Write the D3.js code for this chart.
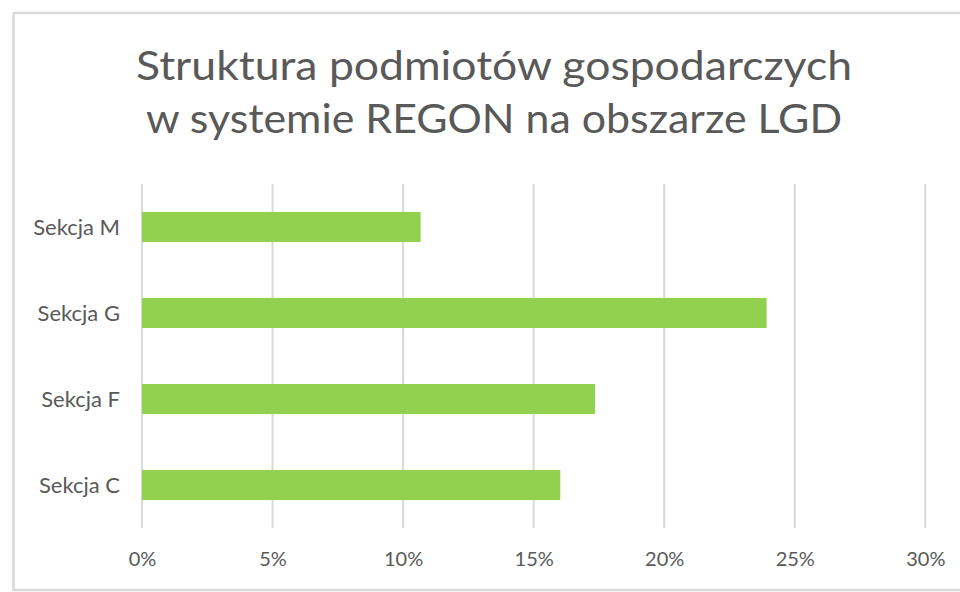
<!DOCTYPE html>
<html><head><meta charset="utf-8">
<script src="https://cdn.jsdelivr.net/npm/d3@7"></script>
<style>html,body{margin:0;padding:0;background:#fff;}svg{display:block;}</style>
</head><body>
<script>
const categories = ["Sekcja M", "Sekcja G", "Sekcja F", "Sekcja C"];
const values = [0.1067, 0.2392, 0.1735, 0.1602];
const tickValues = [0, 0.05, 0.10, 0.15, 0.20, 0.25, 0.30];
const titleLines = ["Struktura podmiotów gospodarczych", "w systemie REGON na obszarze LGD"];

const W = 960, H = 592;
const svg = d3.select("body").append("svg").attr("width", W).attr("height", H);
const font = "Lato, 'Open Sans', sans-serif";
const textColor = "#595959";

svg.append("rect").attr("x", 13.5).attr("y", 13).attr("width", W).attr("height", 577)
  .attr("fill", "#fff").attr("stroke", "#d9d9d9").attr("stroke-width", 2.5);

const x = d3.scaleLinear().domain([0, 0.30]).range([142, 925.3]);
const y = d3.scaleBand().domain(categories).range([184, 528]).paddingInner(0.651).paddingOuter(0.3255);

// title
const titleW = [716, 696];
svg.selectAll("text.title").data(titleLines).join("text").attr("class", "title")
  .attr("x", 494).attr("y", (d, i) => i === 0 ? 80 : 133)
  .attr("text-anchor", "middle").attr("font-family", font).attr("font-size", 41)
  .attr("fill", textColor)
  .attr("textLength", (d, i) => titleW[i]).attr("lengthAdjust", "spacingAndGlyphs")
  .text(d => d);

// gridlines
svg.append("g").selectAll("line").data(tickValues).join("line")
  .attr("x1", d => x(d)).attr("x2", d => x(d)).attr("y1", 184).attr("y2", 528)
  .attr("stroke", "#d9d9d9").attr("stroke-width", 2);

// bars
svg.append("g").selectAll("rect").data(categories).join("rect")
  .attr("x", x(0)).attr("y", d => y(d)).attr("height", y.bandwidth())
  .attr("width", (d, i) => x(values[i]) - x(0)).attr("fill", "#92D050");

// x axis
const xAxis = d3.axisBottom(x).tickValues(tickValues).tickFormat(d3.format(".0%")).tickSize(0).tickPadding(0);
const gx = svg.append("g").attr("transform", "translate(0,566)").call(xAxis);
gx.select(".domain").remove();
gx.selectAll("text").attr("dy", 0).attr("font-family", font).attr("font-size", 20).attr("fill", textColor);

// y axis
const yAxis = d3.axisLeft(y).tickSize(0).tickPadding(22);
const gy = svg.append("g").attr("transform", "translate(142,0)").call(yAxis);
gy.select(".domain").remove();
gy.selectAll("text").attr("font-family", font).attr("font-size", 22).attr("fill", textColor).attr("dy", "0.35em");
</script>
</body></html>
